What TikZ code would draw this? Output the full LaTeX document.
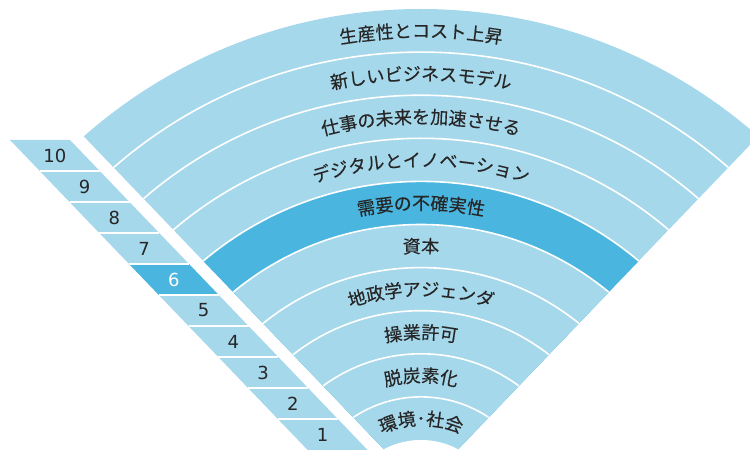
\documentclass[tikz,border=0pt]{standalone}
\usepackage{fontspec}
\newfontfamily\cjk{Noto Sans CJK JP}[FakeBold=0.3]
\newfontfamily\numfont{DejaVu Sans}
\usetikzlibrary{decorations.text}
\definecolor{lightb}{RGB}{166,216,236}
\definecolor{darkb}{RGB}{74,181,223}
\definecolor{txt}{RGB}{38,38,38}
\newcommand\lbl{\cjk\fontsize{18pt}{18pt}\selectfont}
\tikzset{
  ringlbl/.style={decorate, decoration={text along path, text align=center, text color=txt, text={|\lbl|#1}}},
  sepline/.style={white, line width=1.6pt},
  numlbl/.style={font=\numfont\fontsize{18pt}{18pt}\selectfont, inner sep=0pt}
}
\newcommand\ringtext[2]{%
  \pgfmathsetmacro\rb{79+43.1*(#1-0.5)-6.8}%
  \path[ringlbl={#2}] (135:\rb pt) arc[start angle=135,end angle=45,radius=\rb pt];}
\begin{document}
\begin{tikzpicture}[x=1pt,y=1pt]
\useasboundingbox (-421,69) rectangle (329,519);
% fan
\begin{scope}
  \clip (0,31) -- +(133.8:700pt) -- +(46.2:700pt) -- cycle;
  \fill[lightb] (0,0) circle (510pt);
  \fill[darkb] (0,0) circle (337.6pt);
  \fill[lightb] (0,0) circle (294.5pt);
  \fill[white] (0,0) circle (79pt);
  \foreach \k in {1,...,9} {
    \pgfmathsetmacro\r{79+43.1*\k}
    \draw[sepline] (0,0) circle (\r pt);
  }
\end{scope}
% ring labels
\ringtext{10}{生産性とコスト上昇}
\ringtext{9}{新しいビジネスモデル}
\ringtext{8}{仕事の未来を加速させる}
\ringtext{7}{デジタルとイノベーション}
\ringtext{6}{需要の不確実性}
\ringtext{5}{資本}
\ringtext{4}{地政学アジェンダ}
\ringtext{3}{操業許可}
\ringtext{2}{脱炭素化}
\ringtext{1}{環境･社会}
% numbered strip
\foreach \j in {0,...,9} {
  \pgfmathtruncatemacro\n{10-\j}
  \pgfmathsetmacro\xa{-411+29.76*\j}
  \pgfmathsetmacro\ya{379-31*\j}
  \ifnum\n=6 \def\cc{darkb}\def\tc{white}\else\def\cc{lightb}\def\tc{txt}\fi
  \fill[\cc] (\xa,\ya) -- ++(60,0) -- ++(29.76,-31) -- ++(-60,0) -- cycle;
  \node[numlbl, text=\tc] (num\n) at (\xa+44.88,\ya-15.5) {\n};
}
\foreach \j in {1,...,9} {
  \pgfmathsetmacro\xa{-411+29.76*\j}
  \pgfmathsetmacro\ya{379-31*\j}
  \draw[sepline] (\xa,\ya) -- ++(60,0);
}
\end{tikzpicture}
\end{document}
